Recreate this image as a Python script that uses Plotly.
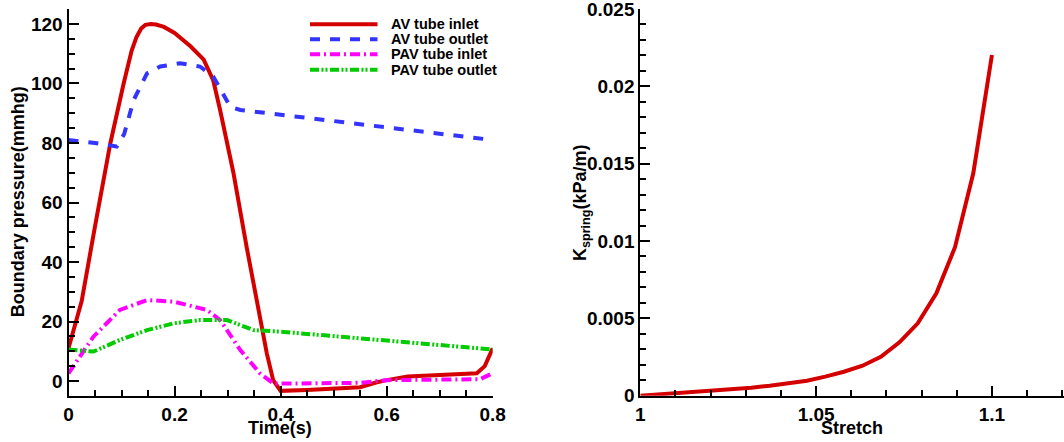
import plotly.graph_objects as go

# ---- Left panel data: boundary pressure vs time ----
t_av_in = [0, 0.025, 0.05, 0.079, 0.104, 0.119, 0.128, 0.137, 0.145, 0.155, 0.165, 0.18,
           0.2, 0.23, 0.255, 0.273, 0.286, 0.311, 0.336, 0.361, 0.374, 0.386, 0.4, 0.45,
           0.5, 0.55, 0.58, 0.6, 0.64, 0.7, 0.77, 0.785, 0.8]
p_av_in = [11, 27, 52, 80, 100, 111, 115.5, 118.5, 119.7, 120, 119.8, 119,
           117, 112.5, 108, 101, 91, 70, 45, 20.5, 9.3, 0.3, -3.3, -3,
           -2.5, -2.1, -0.5, 0.3, 1.5, 2, 2.6, 5, 11]

t_av_out = [0, 0.05, 0.091, 0.105, 0.123, 0.148, 0.173, 0.21, 0.248, 0.273, 0.305,
            0.324, 0.4, 0.5, 0.6, 0.7, 0.8]
p_av_out = [81, 80, 78.8, 83, 94.5, 103.4, 105.7, 106.8, 105.7, 102.3, 92.2,
            91.1, 89.5, 87.4, 85.3, 83.2, 81]

t_pav_in = [0, 0.047, 0.097, 0.148, 0.198, 0.261, 0.286, 0.324, 0.361, 0.386, 0.437,
            0.55, 0.6, 0.688, 0.776, 0.8]
p_pav_in = [2.6, 14.9, 23.9, 27.2, 26.7, 23.9, 20.5, 10.4, 2.6, -0.8, -0.8,
            -0.6, 0.3, 0.6, 0.6, 2.6]

t_pav_out = [0, 0.047, 0.097, 0.148, 0.198, 0.248, 0.299, 0.349, 0.399, 0.6, 0.8]
p_pav_out = [10.6, 9.9, 13.8, 17.1, 19.4, 20.5, 20.5, 17.1, 16.6, 13.7, 10.6]

series_names = ["AV tube inlet", "AV tube outlet", "PAV tube inlet", "PAV tube outlet"]
series_colors = ["#D40000", "#3434FF", "#FF00FF", "#00CC00"]
series_dash = ["solid", "10px,10px", "10px,4px,2px,4px", "9px,2.5px,2px,2px,2px,2.5px"]

# ---- Right panel data: spring stiffness vs stretch ----
stretch = [1.0, 1.0053, 1.0105, 1.0158, 1.0211, 1.0263, 1.0316, 1.0368, 1.0421, 1.0474,
           1.0526, 1.0579, 1.0632, 1.0684, 1.0737, 1.0789, 1.0842, 1.0895, 1.0947, 1.1]
k_spring = [0, 0.00008, 0.00016, 0.00024, 0.00032, 0.0004, 0.00052, 0.00065, 0.0008, 0.00097,
            0.00123, 0.00155, 0.00194, 0.00252, 0.00345, 0.00468, 0.00662, 0.0096, 0.01438, 0.02203]

left_xticks = [0, 0.2, 0.4, 0.6, 0.8]
left_xtext = ["0", "0.2", "0.4", "0.6", "0.8"]
left_yticks = [0, 20, 40, 60, 80, 100, 120]
left_ytext = ["0", "20", "40", "60", "80", "100", "120"]
right_xticks = [1.0, 1.05, 1.1]
right_xtext = ["1", "1.05", "1.1"]
right_yticks = [0, 0.005, 0.01, 0.015, 0.02, 0.025]
right_ytext = ["0", "0.005", "0.01", "0.015", "0.02", "0.025"]

W, H = 1064, 442
FONT = "Liberation Sans, Arial, Helvetica, sans-serif"

fig = go.Figure()
xs = [t_av_in, t_av_out, t_pav_in, t_pav_out]
ys = [p_av_in, p_av_out, p_pav_in, p_pav_out]
for x, y, n, c, d in zip(xs, ys, series_names, series_colors, series_dash):
    fig.add_trace(go.Scatter(x=x, y=y, mode="lines", name=n, showlegend=False,
                             line=dict(color=c, width=4, dash=d),
                             xaxis="x", yaxis="y"))

fig.add_trace(go.Scatter(x=stretch, y=k_spring, mode="lines", showlegend=False,
                         line=dict(color="#D40000", width=4), xaxis="x2", yaxis="y2"))

tickfont = dict(family=FONT, size=19, color="black", weight="bold")
common = dict(showgrid=False, zeroline=False, showline=True, linecolor="black",
              linewidth=2, ticks="inside", ticklen=10, tickwidth=2, tickcolor="black",
              tickfont=tickfont, tickmode="array", ticklabeloverflow="allow")

fig.update_layout(
    autosize=True,
    margin=dict(l=0, r=0, t=0, b=0, autoexpand=False),
    paper_bgcolor="white", plot_bgcolor="white",
    xaxis=dict(**common, domain=[68.5 / W, 492.7 / W], range=[0, 0.8],
               tickvals=left_xticks, ticktext=left_xtext, anchor="y",
               minor=dict(dtick=0.05, tick0=0, ticks="inside", ticklen=6, tickwidth=1.5,
                          tickcolor="black")),
    yaxis=dict(**common, domain=[(H - 395.9) / H, (H - 9.1) / H], range=[-5, 125],
               tickvals=left_yticks, ticktext=left_ytext, anchor="x",
               minor=dict(dtick=5, tick0=0, ticks="inside", ticklen=6, tickwidth=1.5,
                          tickcolor="black")),
    xaxis2=dict(**common, domain=[640.3 / W, 1.0], range=[1.0, 1.1205],
                tickvals=right_xticks, ticktext=right_xtext, anchor="y2",
                minor=dict(dtick=0.01, tick0=1.0, ticks="inside", ticklen=6, tickwidth=1.5,
                           tickcolor="black")),
    yaxis2=dict(**common, domain=[(H - 395.7) / H, (H - 9.0) / H], range=[0, 0.025],
                tickvals=right_yticks, ticktext=right_ytext, anchor="x2",
                minor=dict(dtick=0.001, tick0=0, ticks="inside", ticklen=6, tickwidth=1.5,
                           tickcolor="black")),
)

title_font = dict(family=FONT, size=18, color="black", weight="bold")
annotations = [
    dict(text="Time(s)", x=280 / W, y=(H - 428) / H, xref="paper", yref="paper",
         showarrow=False, font=title_font, xanchor="center", yanchor="middle"),
    dict(text="Stretch", x=852 / W, y=(H - 428) / H, xref="paper", yref="paper",
         showarrow=False, font=title_font, xanchor="center", yanchor="middle"),
    dict(text="Boundary pressure(mmhg)", x=18.3 / W, y=(H - 202) / H, xref="paper",
         yref="paper", showarrow=False, font=title_font, textangle=-90,
         xanchor="center", yanchor="middle"),
    dict(text="K<sub>spring</sub>(kPa/m)", x=581 / W, y=(H - 203) / H, xref="paper",
         yref="paper", showarrow=False, font=title_font, textangle=-90,
         xanchor="center", yanchor="middle"),
]

# legend (drawn as shapes + text to match the reference layout)
legend_rows = [24.3, 39.3, 54.3, 69.7]
legend_font = dict(family=FONT, size=14.5, color="black", weight="bold")
shapes = []
for row, n, c, d in zip(legend_rows, series_names, series_colors, series_dash):
    shapes.append(dict(type="line", xref="paper", yref="paper",
                       x0=310 / W, x1=377.5 / W, y0=(H - row) / H, y1=(H - row) / H,
                       line=dict(color=c, width=4, dash=d)))
    annotations.append(dict(text=n, x=389 / W, y=(H - row) / H, xref="paper", yref="paper",
                            showarrow=False, font=legend_font, xanchor="left",
                            yanchor="middle"))

fig.update_layout(annotations=annotations, shapes=shapes)
fig.write_html("out.html",
               default_width="100vw", default_height="100vh",
               config={"displayModeBar": False, "responsive": True},
               post_script="document.body.style.margin='0';"
                           "document.body.style.overflow='hidden';"
                           "document.documentElement.style.overflow='hidden';")
